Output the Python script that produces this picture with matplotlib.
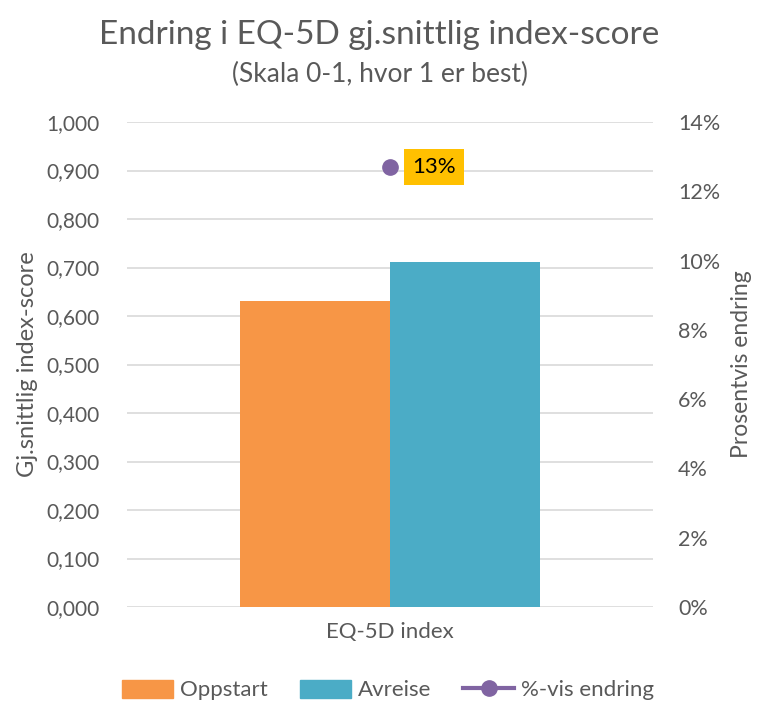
import numpy as np
import matplotlib
matplotlib.use('Agg')
import matplotlib.pyplot as plt
from matplotlib.lines import Line2D
from matplotlib.patches import Patch

# data
category = ['EQ-5D index']
series_names = ['Oppstart', 'Avreise']
series_values = [0.631, 0.711]
change_name = '%-vis endring'
change_values = [0.127]
change_labels = ['13%']
left_ticks = [0.0, 0.1, 0.2, 0.3, 0.4, 0.5, 0.6, 0.7, 0.8, 0.9, 1.0]
right_ticks = [0, 0.02, 0.04, 0.06, 0.08, 0.10, 0.12, 0.14]

colors = ['#F79646', '#4BACC6']
line_color = '#8064A2'
grey = '#595959'

plt.rcParams['font.family'] = ['Lato', 'DejaVu Sans']

fig = plt.figure(figsize=(7.59, 7.02), dpi=100)
ax = fig.add_axes([127 / 759, 95 / 702, 526 / 759, 485 / 702])
ax2 = ax.twinx()

width = 0.2857
for i, (name, val) in enumerate(zip(series_names, series_values)):
    ax.bar(0 + (i - 0.5) * width, val, width, color=colors[i], zorder=3)

ax.set_xlim(-0.5, 0.5)
ax.set_ylim(0, 1.0)
ax.set_yticks(left_ticks)
ax.set_yticklabels(['{:.3f}'.format(t).replace('.', ',') for t in left_ticks])
ax.set_xticks([0])
ax.set_xticklabels(category)
ax.grid(axis='y', color='#D9D9D9', linewidth=1.2, zorder=0)
ax.tick_params(length=0, labelsize=15, colors=grey, pad=20)
ax.tick_params(axis='x', labelsize=16, pad=11)
for s in ax.spines.values():
    s.set_visible(False)
ax.set_ylabel('Gj.snittlig index-score', fontsize=17, color=grey, labelpad=6)

ax2.set_ylim(0, 0.14)
ax2.set_yticks(right_ticks)
ax2.set_yticklabels(['{:.0f}%'.format(t * 100) for t in right_ticks])
ax2.tick_params(length=0, labelsize=15.5, colors=grey, pad=18)
for s in ax2.spines.values():
    s.set_visible(False)
ax2.set_ylabel('Prosentvis endring', fontsize=16.5, color=grey, labelpad=8)

ax2.plot([0], change_values, marker='o', color=line_color, markersize=11,
         linestyle='-', zorder=5)
for v, lab in zip(change_values, change_labels):
    ax2.annotate(lab, (0, v), xytext=(44, 0), textcoords='offset pixels',
                 ha='center', va='center', fontsize=16, color='black',
                 bbox=dict(boxstyle='square,pad=0.38', fc='#FFC000', ec='none'))

fig.text(0.5, 1 - 35 / 702, 'Endring i EQ-5D gj.snittlig index-score',
         ha='center', va='center', fontsize=24, color=grey)
fig.text(0.5, 1 - 74 / 702, '(Skala 0-1, hvor 1 er best)',
         ha='center', va='center', fontsize=19, color=grey)

handles = [Patch(color=colors[0]), Patch(color=colors[1]),
           Line2D([], [], color=line_color, marker='o', markersize=11, linewidth=3)]
fig.legend(handles, series_names + [change_name], loc='center',
           bbox_to_anchor=(388 / 759, 1 - 690 / 702), ncol=3, frameon=False,
           fontsize=16, labelcolor=grey, handlelength=2.3, handleheight=0.9,
           columnspacing=1.45, handletextpad=0.3, borderpad=0.1)

fig.savefig('out.png', dpi=100)
